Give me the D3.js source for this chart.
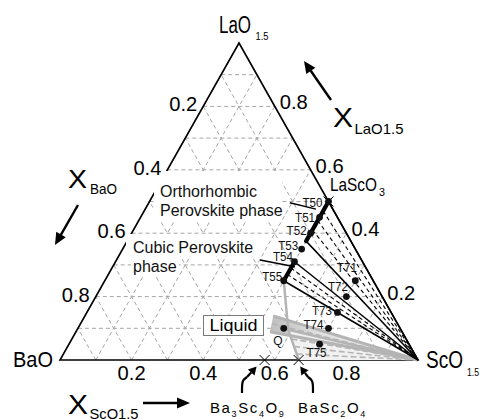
<!DOCTYPE html>
<html>
<head>
<meta charset="utf-8">
<script src="https://cdn.jsdelivr.net/npm/d3@7"></script>
<style>
  body { margin: 0; background: #fff; }
  svg { display: block; font-family: Arial, "Liberation Sans", sans-serif; }
</style>
</head>
<body>
<svg id="chart" width="482" height="419"></svg>
<script>
// Compositions are given as cation fractions [xLaO1.5, xScO1.5]; xBaO = 1 - La - Sc.

// Analysed samples
const sampleNames = ["T50", "T51", "T52", "T53", "T54", "T55", "T71", "T72", "T73", "T74", "T75", "Q"];
const sampleLa    = [0.50, 0.45, 0.40, 0.35, 0.31, 0.25, 0.25, 0.20, 0.15, 0.10, 0.05, 0.10];
const sampleSc    = [0.50, 0.50, 0.50, 0.50, 0.50, 0.50, 0.70, 0.70, 0.70, 0.70, 0.70, 0.575];

// Perovskite solid-solution ranges along xScO1.5 = 0.5 (La ends)
const orthoRangeLa = [0.50, 0.375];
const cubicRangeLa = [0.31, 0.25];
const perovSc = 0.5;

// Tie lines from perovskite compositions to ScO1.5 (dashed, interior)
const orthoTieLa = [0.47, 0.44, 0.41];
const cubicTieLa = [0.29, 0.27];

// Liquid field boundary: T55 -> bend -> BaSc2O4
const liqBoundLa = [0.25, 0.095, 0.0];
const liqBoundSc = [0.50, 0.590, 0.667];
// Liquid + ScO1.5 wedge starts
const wedgeLa = [0.139, 0.089];
const wedgeSc = [0.526, 0.542];
// Extra grey tie lines inside the wedge
const wedgeTieLa = [0.115, 0.105];
const wedgeTieSc = [0.535, 0.560];
// Grey dashed tie lines from the liquid boundary (fractions along bend -> BaSc2O4)
const liqTieFrac = [0.3, 0.55, 0.8];

// Binary compounds on the BaO-ScO1.5 edge
const compoundSc = [4 / 7, 2 / 3];

// Axis ticks
const axisTicks = [0.2, 0.4, 0.6, 0.8];
const tickLabels = ["0.2", "0.4", "0.6", "0.8"];
const gridTicks = [0.1, 0.2, 0.3, 0.4, 0.5, 0.6, 0.7, 0.8, 0.9];

// Phase-label pointers [La, Sc] start -> end
const orthoPointer = [[0.496, 0.394], [0.476, 0.477]];
const cubicPointer = [[0.3155, 0.401], [0.294, 0.509]];

// Label offsets for samples: [dx, dy, anchor]
const sampleLabelOffsets = [
  [-6, 5.5, "end"], [-4.5, 4.5, "end"], [-4, 2, "end"], [-3.5, 0.5, "end"],
  [-1.5, -0.5, "end"], [-1.5, 0, "end"], [1.5, -9, "end"], [1.5, -6, "end"],
  [-5.5, 2.5, "end"], [-5, 1, "end"], [-13, 12.5, "start"], [-10.5, 16.5, "start"]
];

// ---------------------------------------------------------------------------
const svg = d3.select("#chart");
const sx = d3.scaleLinear().domain([0, 1]).range([60, 418]);
const sy = d3.scaleLinear().domain([0, 1]).range([360, 43]);
const P = (la, sc) => [sx(sc + la / 2), sy(la)];
const line = d3.line();
const ScO = P(0, 1);

const defs = svg.append("defs");
const grad = defs.append("linearGradient").attr("id", "wedgeFill")
  .attr("gradientUnits", "userSpaceOnUse")
  .attr("x1", 268).attr("y1", 0).attr("x2", 418).attr("y2", 0);
grad.append("stop").attr("offset", 0).attr("stop-color", "#bdbdbd");
grad.append("stop").attr("offset", 0.35).attr("stop-color", "#e0e0e0");
grad.append("stop").attr("offset", 1).attr("stop-color", "#ececec");

// Grid
const grid = svg.append("g").attr("stroke", "#a6a6a6").attr("stroke-width", 1)
  .attr("stroke-dasharray", "4,3").attr("fill", "none");
gridTicks.forEach(k => {
  grid.append("path").attr("d", line([P(k, 0), P(k, 1 - k)]));       // const La
  grid.append("path").attr("d", line([P(0, k), P(1 - k, k)]));       // const Sc
  grid.append("path").attr("d", line([P(0, 1 - k), P(1 - k, 0)]));   // const Ba
});

// Triangle edges
svg.append("path")
  .attr("d", line([P(1, 0), P(0, 0), P(0, 1)]) + "Z")
  .attr("fill", "none").attr("stroke", "#000").attr("stroke-width", 1.6);

// Backgrounds for phase labels
svg.append("rect").attr("x", 154).attr("y", 171).attr("width", 128).attr("height", 50).attr("fill", "#fff");
svg.append("rect").attr("x", 126).attr("y", 234).attr("width", 130).attr("height", 22).attr("fill", "#fff");
svg.append("rect").attr("x", 131).attr("y", 257).attr("width", 48).attr("height", 19).attr("fill", "#fff");

// Liquid + ScO1.5 region (grey)
const gA = P(wedgeLa[0], wedgeSc[0]), gB = P(wedgeLa[1], wedgeSc[1]);
svg.append("path").attr("d", line([gA, ScO, gB]) + "Z").attr("fill", "url(#wedgeFill)");
const bend = P(liqBoundLa[1], liqBoundSc[1]);
const bas = P(liqBoundLa[2], liqBoundSc[2]);
svg.append("path").attr("d", line([bend, ScO, bas]) + "Z").attr("fill", "#f1f1f1");
const grey = svg.append("g").attr("fill", "none").attr("stroke", "#b4b4b4");
grey.append("path").attr("d", line([gA, ScO])).attr("stroke-width", 3);
grey.append("path").attr("d", line([gB, ScO])).attr("stroke-width", 3);
grey.append("path").attr("d", line([bend, ScO])).attr("stroke-width", 2.5);
grey.append("path").attr("d", line(liqBoundLa.map((la, i) => P(la, liqBoundSc[i])))).attr("stroke-width", 2.5);
liqTieFrac.forEach(f => {
  const la = liqBoundLa[1] + f * (liqBoundLa[2] - liqBoundLa[1]);
  const sc = liqBoundSc[1] + f * (liqBoundSc[2] - liqBoundSc[1]);
  grey.append("path").attr("d", line([P(la, sc), ScO])).attr("stroke-width", 1.6).attr("stroke-dasharray", "6,3");
});
wedgeTieLa.forEach((la, i) => {
  grey.append("path").attr("d", line([P(la, wedgeTieSc[i]), ScO])).attr("stroke-width", 1.4).attr("stroke-dasharray", "6,3");
});

// Tie-line fans
const fans = svg.append("g").attr("fill", "none").attr("stroke", "#000");
[orthoRangeLa, cubicRangeLa].forEach(r => {
  r.forEach(la => fans.append("path").attr("d", line([P(la, perovSc), ScO])).attr("stroke-width", 1.5));
});
orthoTieLa.concat(cubicTieLa).forEach(la => {
  fans.append("path").attr("d", line([P(la, perovSc), ScO])).attr("stroke-width", 1.1).attr("stroke-dasharray", "4,3");
});

// Perovskite single-phase ranges
[orthoRangeLa, cubicRangeLa].forEach(r => {
  svg.append("path").attr("d", line(r.map(la => P(la, perovSc))))
    .attr("stroke", "#000").attr("stroke-width", 4.2).attr("stroke-linecap", "round").attr("fill", "none");
});

// Phase pointers
[orthoPointer, cubicPointer].forEach(p => {
  svg.append("path").attr("d", line(p.map(d => P(d[0], d[1]))))
    .attr("stroke", "#000").attr("stroke-width", 1.5).attr("fill", "none");
});

// Cross marks: LaScO3 and binary compounds
const cross = (c, s) => {
  svg.append("path")
    .attr("d", `M${c[0] - s},${c[1] - s}L${c[0] + s},${c[1] + s}M${c[0] - s},${c[1] + s}L${c[0] + s},${c[1] - s}`)
    .attr("stroke", "#000").attr("stroke-width", 1).attr("fill", "none");
};
cross(P(0.5, 0.5), 5);
compoundSc.forEach(sc => cross(P(0, sc), 5));

// Sample points
svg.append("g").selectAll("circle").data(sampleNames).join("circle")
  .attr("cx", (d, i) => P(sampleLa[i], sampleSc[i])[0])
  .attr("cy", (d, i) => P(sampleLa[i], sampleSc[i])[1])
  .attr("r", 3.4).attr("fill", "#111");

// Sample labels
svg.append("g").attr("font-size", 12).attr("fill", "#111")
  .selectAll("text").data(sampleNames).join("text")
  .attr("x", (d, i) => P(sampleLa[i], sampleSc[i])[0] + sampleLabelOffsets[i][0])
  .attr("y", (d, i) => P(sampleLa[i], sampleSc[i])[1] + sampleLabelOffsets[i][1])
  .attr("text-anchor", (d, i) => sampleLabelOffsets[i][2])
  .each(function (d) {
    if (d.length > 1) d3.select(this).attr("textLength", 20).attr("lengthAdjust", "spacingAndGlyphs");
  })
  .text(d => d);

// Tick labels
const ticks = svg.append("g").attr("font-size", 20).attr("fill", "#000");
axisTicks.forEach((t, i) => {
  const l = P(1 - t, 0);
  ticks.append("text").attr("x", l[0] - 6).attr("y", l[1] + 5).attr("text-anchor", "end")
    .attr("textLength", 28).attr("lengthAdjust", "spacingAndGlyphs").text(tickLabels[i]);
  const r = P(t, 1 - t);
  ticks.append("text").attr("x", r[0] + 5).attr("y", r[1] + 3).attr("text-anchor", "start")
    .attr("textLength", 28).attr("lengthAdjust", "spacingAndGlyphs").text(tickLabels[i]);
  const b = P(0, t);
  ticks.append("text").attr("x", b[0]).attr("y", b[1] + 20).attr("text-anchor", "middle")
    .attr("textLength", 28).attr("lengthAdjust", "spacingAndGlyphs").text(tickLabels[i]);
});

// Text helper with subscript
function subText(x, y, main, sub, fs, subFs, mainLen, subLen, gap, drop) {
  svg.append("text").attr("x", x).attr("y", y).attr("font-size", fs)
    .attr("textLength", mainLen).attr("lengthAdjust", "spacingAndGlyphs").text(main);
  svg.append("text").attr("x", x + mainLen + gap).attr("y", y + drop).attr("font-size", subFs)
    .attr("textLength", subLen).attr("lengthAdjust", "spacingAndGlyphs").text(sub);
}

// Vertex labels
subText(219, 32.5, "LaO", "1.5", 23, 11, 32, 13, 4.5, 7);
svg.append("text").attr("x", 13).attr("y", 367).attr("font-size", 22)
  .attr("textLength", 40).attr("lengthAdjust", "spacingAndGlyphs").text("BaO");
subText(426, 368, "ScO", "1.5", 23, 11, 37, 12, 4, 8);
subText(330, 190.5, "LaScO", "3", 19, 11, 47, 6, 2, 5.5);

// Axis titles
subText(333, 127, "X", "LaO1.5", 27, 14.5, 20, 49, 1.5, 6.5);
subText(68, 188, "X", "BaO", 26, 14, 19, 27, 3, 5.5);
subText(68, 414, "X", "ScO1.5", 28, 14.5, 20, 49, 1.5, 4.5);

// Arrows
function arrow(t0, t1, len, half) {
  const dx = t1[0] - t0[0], dy = t1[1] - t0[1], L = Math.hypot(dx, dy);
  const ux = dx / L, uy = dy / L;
  const bx = t1[0] - ux * len, by = t1[1] - uy * len;
  svg.append("path").attr("d", line([t0, [bx + ux * 2, by + uy * 2]]))
    .attr("stroke", "#000").attr("stroke-width", 2.4).attr("fill", "none");
  svg.append("path")
    .attr("d", line([t1, [bx - uy * half, by + ux * half], [bx + uy * half, by - ux * half]]) + "Z")
    .attr("fill", "#000");
}
arrow([331, 100], [304, 61], 12, 5.5);
arrow([78, 205], [55, 245], 12, 5.5);
arrow([143, 403], [190, 403], 13, 5.5);

// Compound pointers (bent arrows)
function bentArrow(pts, tip) {
  svg.append("path").attr("d", d3.line().curve(d3.curveBasis)(pts))
    .attr("stroke", "#000").attr("stroke-width", 2.2).attr("fill", "none");
  const a = pts[pts.length - 1];
  const dx = tip[0] - a[0], dy = tip[1] - a[1], L = Math.hypot(dx, dy);
  const ux = dx / L, uy = dy / L, len = 8, half = 4.5;
  const bx = tip[0] - ux * len, by = tip[1] - uy * len;
  svg.append("path").attr("d", line([a, [bx, by]])).attr("stroke", "#000").attr("stroke-width", 2.2);
  svg.append("path")
    .attr("d", line([tip, [bx - uy * half, by + ux * half], [bx + uy * half, by - ux * half]]) + "Z")
    .attr("fill", "#000");
}
const c1 = P(0, compoundSc[0]), c2 = P(0, compoundSc[1]);
bentArrow([[242, 393], [242, 384], [243, 380], [247, 377]], [c1[0] - 8, c1[1] + 6.5]);
bentArrow([[313, 393], [313, 384], [312, 380], [308, 377]], [c2[0] + 1.5, c2[1] + 6.5]);

// Compound names with subscripts
function formula(x, y, parts) {
  const t = svg.append("text").attr("x", x).attr("y", y).attr("font-size", 15)
    .attr("letter-spacing", 1.6);
  let prevSub = false;
  parts.forEach(p => {
    const isSub = /^\d$/.test(p);
    const dy = isSub ? (prevSub ? 0 : 3.5) : (prevSub ? -3.5 : 0);
    t.append("tspan").attr("font-size", isSub ? 9 : 15).attr("dy", dy).text(p);
    prevSub = isSub;
  });
}
formula(210, 413, ["Ba", "3", "Sc", "4", "O", "9"]);
formula(298, 413, ["BaSc", "2", "O", "4"]);

// Phase labels
const phase = svg.append("g").attr("font-size", 16).attr("fill", "#111");
phase.append("text").attr("x", 160).attr("y", 196.5).text("Orthorhombic");
phase.append("text").attr("x", 160).attr("y", 215.5).text("Perovskite phase");
phase.append("text").attr("x", 133).attr("y", 252.5).text("Cubic Perovskite");
phase.append("text").attr("x", 133).attr("y", 271.5).text("phase");

// Liquid label
svg.append("rect").attr("x", 203.5).attr("y", 315.5).attr("width", 60).attr("height", 20)
  .attr("fill", "#fff").attr("stroke", "#7a7a7a").attr("stroke-width", 1);
svg.append("text").attr("x", 233.5).attr("y", 331).attr("font-size", 17).attr("text-anchor", "middle")
  .attr("textLength", 48).attr("lengthAdjust", "spacingAndGlyphs").text("Liquid");
</script>
</body>
</html>
